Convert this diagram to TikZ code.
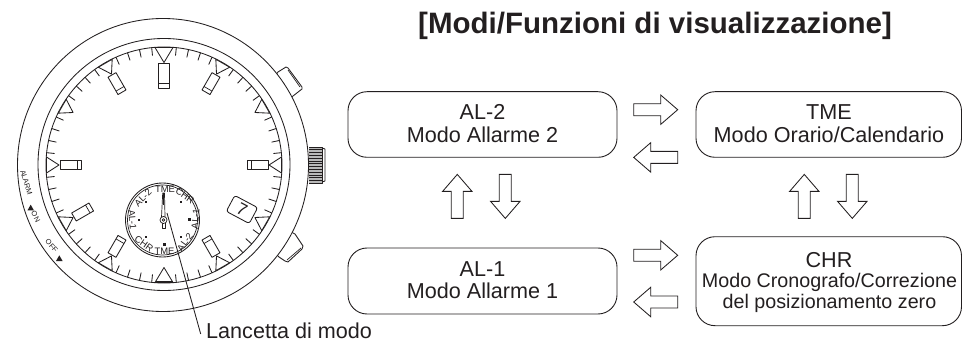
\documentclass[tikz,border=0pt]{standalone}
\usepackage{fontspec}
\setmainfont{Liberation Sans}
\usetikzlibrary{calc}
\definecolor{ink}{HTML}{231F20}
\newcommand{\fs}[1]{\fontsize{#1}{#1}\selectfont}
\tikzset{
  wline/.style={draw=ink,line width=0.85pt,line join=round},
  thin ink/.style={draw=ink,line width=0.7pt,line join=round},
  modebox/.style={draw=ink,line width=0.9pt,rounded corners=19pt,fill=white},
  boxtext/.style={text=ink,inner sep=0pt,font=\fs{21.6},anchor=center},
  sublabel/.style={text=ink,inner sep=0pt,font=\fs{9.4},anchor=center},
  caselabel/.style={text=ink,inner sep=0pt,font=\fs{7.4},anchor=center},
  blockarrow/.pic={
    \draw[draw=ink,line width=0.85pt,line join=miter,fill=white]
      (-22,-6)--(5,-6)--(5,-14.7)--(22,0)--(5,14.7)--(5,6)--(-22,6)--cycle;
  }
}
\begin{document}
\begin{tikzpicture}[x=1pt,y=-1pt]
\useasboundingbox (0,0) rectangle (962,342);
% pushers and crown
\draw[wline,fill=white] (270,83)--(278,72)--(286,67)--(288,68)--(302,87)--(302,89)--(293,96)--(285,102)--cycle;
\draw[thin ink] (288,70)--(300,87);
\draw[wline,fill=white] (285,228)--(293,233)--(295,234)--(303,246)--(302,249)--(288,262)--(285,261)--(279,257)--(272,250)--cycle;
\draw[thin ink] (301,248)--(287,260);
\fill[gray!55] (309,147) rectangle (322,183);
\foreach \yy in {147,149.8,...,183}{\draw[ink,line width=0.75pt] (309,\yy)--(322,\yy);}
\draw[wline] (309,147)--(322,147)--(322,183)--(309,183);
\draw[wline] (322,148)--(325,149)--(325,181)--(322,182);
% case
\draw[wline,fill=white] (163,165) ellipse [x radius=145.5,y radius=146.5];
\draw[wline,fill=white] (164,164.5) circle [radius=126];
\draw[wline,fill=white] (164,165) circle [radius=118];
% ticks
\foreach \a in {0,6,...,354}{
  \begin{scope}[shift={(164,165)},rotate=-\a]
  \draw[wline] (0,-118)--(0,-110);
  \end{scope}
}
% hour triangles (white over ticks)
\foreach \a in {30,60,...,150,210,240,...,330}{
  \begin{scope}[shift={(164,165)},rotate=-\a]
  \draw[wline,fill=white] (-8,-117.5)--(8,-117.5)--(0,-105)--cycle;
  \end{scope}
}
\foreach \a in {0,180}{
  \begin{scope}[shift={(164,165)},rotate=-\a]
  \draw[wline,fill=white] (-9,-117.5)--(9,-117.5)--(0,-102.5)--cycle;
  \end{scope}
}
\draw[ink,line width=1.4pt] (155.5,281.5)--(172.5,281.5);
% batons
\foreach \a in {30,150,210,240,330}{
  \begin{scope}[shift={(164,165)},rotate=-\a]
  \draw[wline,fill=white] (-4.6,-104)--(4.6,-104)--(4.6,-84)--(-4.6,-84)--cycle;
  \draw[thin ink] (-4.6,-88)--(4.6,-88);
  \end{scope}
}
\begin{scope}[shift={(164,165)}]
  \draw[wline,fill=white] (-5.2,-102)--(5.2,-102)--(5.2,-77)--(-5.2,-77)--cycle;
  \draw[thin ink] (-5.2,-82)--(5.2,-82);
\end{scope}
\foreach \a in {90,270}{
  \begin{scope}[shift={(164,165)},rotate=-\a]
  \draw[wline,fill=white] (-4.7,-104)--(4.7,-104)--(4.7,-83)--(-4.7,-83)--cycle;
  \draw[thin ink] (-4.7,-87)--(4.7,-87);
  \end{scope}
}
% date window
\node[draw=ink,line width=0.85pt,rounded corners=2.5pt,fill=white,minimum width=26pt,minimum height=18pt,inner sep=0pt,rotate=-28] (datebox) at (242,209.5) {};
\node[text=ink,inner sep=0pt,font=\fs{17},rotate=-28] (datenum) at (datebox.center) {7};
% case engravings
\node[caselabel,rotate=-73] (alarm) at (26.3,182.6) {ALARM};
\node[caselabel,rotate=-62] (onlabel) at (35.7,216.7) {ON};
\node[caselabel,rotate=-50] (offlabel) at (51.7,246) {OFF};
\fill[ink] (30.7,204.7)--(34,210.5)--(27.4,210.5)--cycle;
\fill[ink] (59.3,255.3)--(62.6,261)--(56,261)--cycle;
% subdial
\draw[wline,fill=white] (162.5,220) circle [radius=37];
\draw[thin ink] (162.5,220) circle [radius=35];
\node[sublabel,rotate=45]  (s1) at (143,198) {AL-2};
\node[sublabel]            (s2) at (165,189) {TME};
\node[sublabel,rotate=-35] (s3) at (185,195.5) {CHR};
\node[sublabel,rotate=85]  (s4) at (195.5,219) {AL-1};
\node[sublabel,rotate=55]  (s5) at (185,242) {AL-2};
\node[sublabel]            (s6) at (164.5,251) {TME};
\node[sublabel,rotate=-35] (s7) at (144,244) {CHR};
\node[sublabel,rotate=-85] (s8) at (132.5,220) {AL-1};
\fill[ink] (145,201) rectangle (147.2,203.2);
\fill[ink] (180,201) rectangle (182.2,203.2);
\fill[ink] (187.5,218.5) rectangle (191,221.5);
\fill[ink] (137.5,219) rectangle (139.7,221.2);
\fill[ink] (162.5,243) rectangle (165.5,246);
\fill[ink] (145,236) rectangle (147.2,238.2);
\fill[ink] (180,236) rectangle (182.2,238.2);
% mode hand
\draw[thin ink,fill=white] (161.5,217)--(162.7,193)--(164.5,193)--(165,217)--cycle;
\draw[ink,line width=1.3pt] (163.3,193)--(163.3,205);
\draw[thin ink,fill=white] (162,223)--(162,228.5)--(165,228.5)--(165,223);
\draw[thin ink,fill=white] (163.5,220) circle [radius=3.5];
\draw[thin ink] (163.5,220) circle [radius=1.4];
% leader
\node[text=ink,inner sep=0pt,anchor=base west,font=\fs{21.6}] (handlabel) at (206,338) {Lancetta di modo};
\coordinate (handpt) at (167,213);
\draw[thin ink,line width=0.85pt] (handpt)--(200.7,334);
% title
\node[text=ink,inner sep=0pt,anchor=base west,font=\bfseries\fs{29.5}] (title) at (418,33.5) {[Modi/Funzioni di visualizzazione]};
% mode boxes
\draw[modebox] (348,91.7) rectangle (617,157.3);
\draw[modebox] (348,248) rectangle (617,314);
\draw[modebox] (696,91.7) rectangle (961.5,157.3);
\draw[modebox] (696,236.7) rectangle (961.5,325.7);
\node[boxtext] (al2a) at (482.5,112) {AL-2};
\node[boxtext] (al2b) at (482.5,134.5) {Modo Allarme 2};
\node[boxtext] (al1a) at (482.5,269) {AL-1};
\node[boxtext] (al1b) at (482.5,291) {Modo Allarme 1};
\node[boxtext] (tmea) at (829,112) {TME};
\node[boxtext] (tmeb) at (829,134.5) {Modo Orario/Calendario};
\node[boxtext] (chra) at (829,260) {CHR};
\node[boxtext,font=\fs{19.7}] (chrb) at (829.5,282) {Modo Cronografo/Correzione};
\node[boxtext,font=\fs{19.7}] (chrc) at (829.5,303.5) {del posizionamento zero};
% block arrows
\pic at (655.7,109.7) {blockarrow};
\pic[rotate=180] at (655.7,157.4) {blockarrow};
\pic at (655.7,255.3) {blockarrow};
\pic[rotate=180] at (655.7,302) {blockarrow};
\pic[rotate=90] at (457.3,196.4) {blockarrow};
\pic[rotate=-90] at (505.3,196.4) {blockarrow};
\pic[rotate=90] at (804.3,196.4) {blockarrow};
\pic[rotate=-90] at (852.3,196.4) {blockarrow};
\end{tikzpicture}
\end{document}
